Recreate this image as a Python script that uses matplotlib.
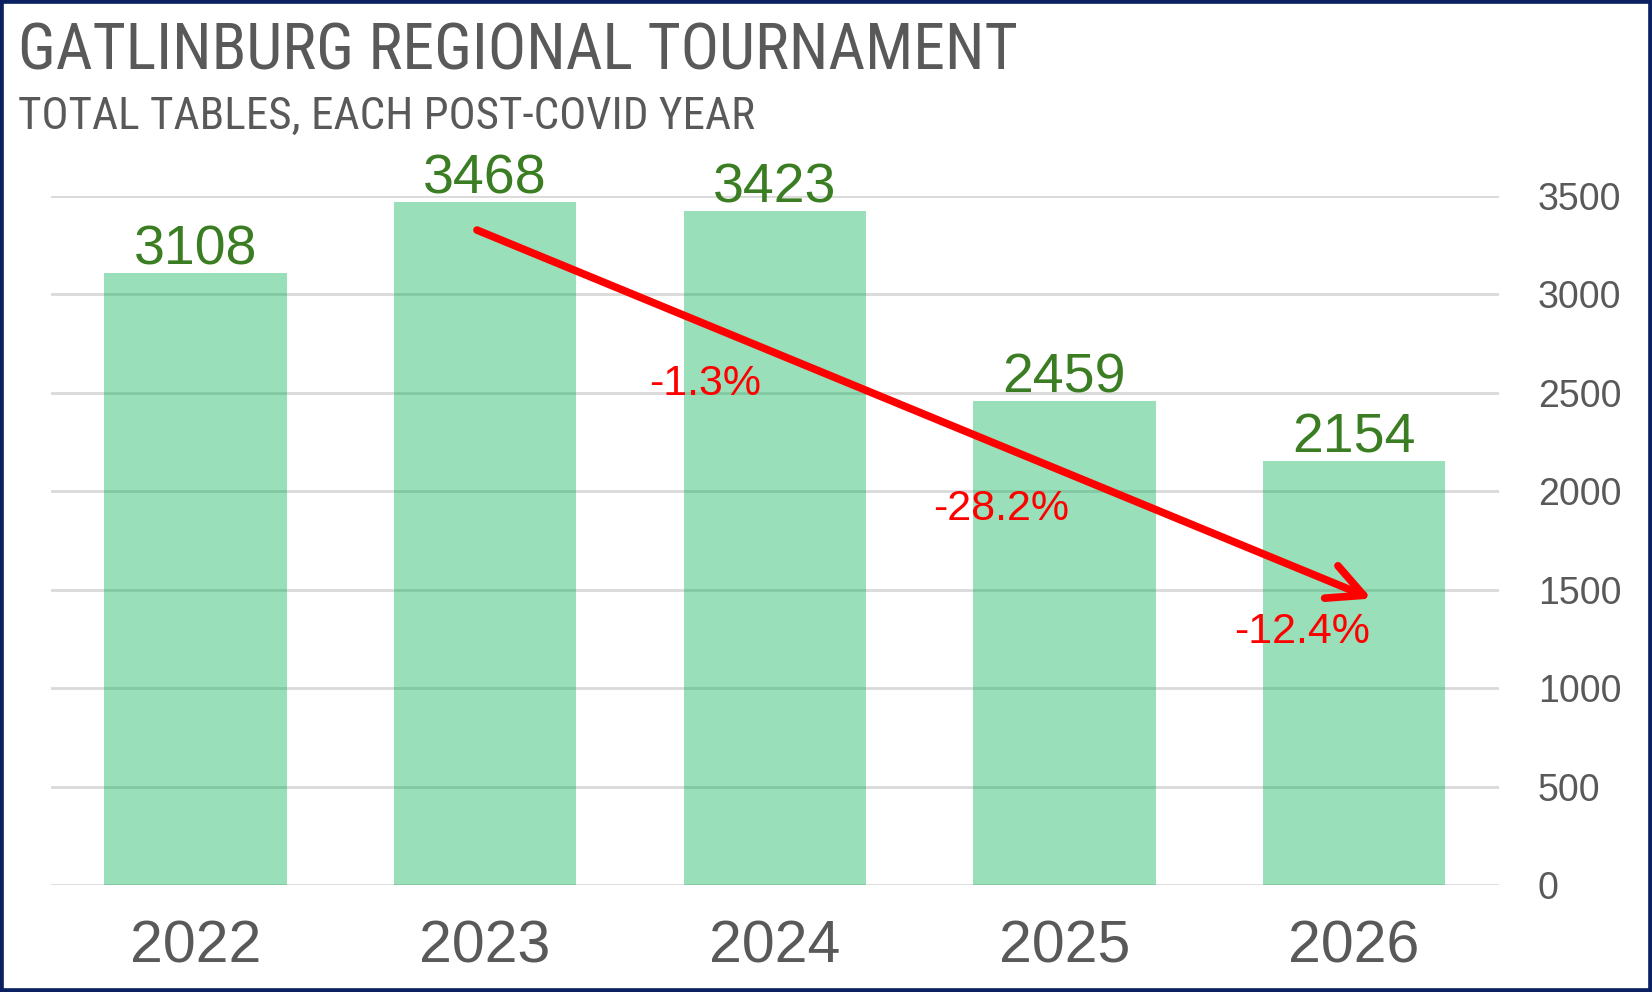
import matplotlib
matplotlib.use('Agg')
import matplotlib.pyplot as plt
from matplotlib.patches import Rectangle

years = ['2022', '2023', '2024', '2025', '2026']
tables = [3108, 3468, 3423, 2459, 2154]
yticks = [0, 500, 1000, 1500, 2000, 2500, 3000, 3500]

# year-on-year change labels for 2024..2026
changes = [(tables[i] - tables[i - 1]) / tables[i - 1] * 100 for i in range(2, 5)]
change_pos = [(1.76, 2489), (2.78, 1854), (3.82, 1229)]

grey = '#595959'
plt.rcParams['font.family'] = ['Liberation Sans', 'DejaVu Sans']

fig = plt.figure(figsize=(16.52, 9.92), dpi=100)
ax = fig.add_axes([0.0306, 0.1079, 0.8768, 0.6945])

x = range(len(years))
ax.bar(x, tables, width=0.63, color='#00B050', alpha=0.4, zorder=2)

for i, v in enumerate(tables):
    ax.annotate(str(v), (i, v), xytext=(0, 6), textcoords='offset points',
                ha='center', va='baseline', fontsize=40, color='#3A7D22')

ax.annotate('', xy=(4.06, 1455), xytext=(0.972, 3327),
            arrowprops=dict(arrowstyle='->, head_length=0.4, head_width=0.2',
                            color='red', lw=5.5, mutation_scale=63,
                            shrinkA=0, shrinkB=0), zorder=5)

for (px, py), c in zip(change_pos, changes):
    ax.text(px, py, f'{c:.1f}%', ha='center', va='baseline',
            fontsize=31, color='red', zorder=6)

ax.set_xlim(-0.5, 4.5)
ax.set_ylim(0, 3500)
ax.set_xticks(list(x))
ax.set_xticklabels(years)
ax.set_yticks(yticks)
ax.yaxis.tick_right()
ax.tick_params(axis='x', length=0, labelsize=42.5, labelcolor=grey, pad=25)
ax.tick_params(axis='y', length=0, labelsize=27, labelcolor=grey, pad=28)
for s in ax.spines.values():
    s.set_visible(False)
ax.grid(axis='y', color='#D9D9D9', lw=2, zorder=1)
ax.set_axisbelow(True)

fig.text(18 / 1652, 1 - 70 / 992, 'GATLINBURG REGIONAL TOURNAMENT',
         family='Roboto Condensed', fontsize=46, color=grey, va='baseline')
fig.text(18 / 1652, 1 - 129 / 992, 'TOTAL TABLES, EACH POST-COVID YEAR',
         family='Roboto Condensed', fontsize=32.5, color=grey, va='baseline')

fig.patches.append(Rectangle((0, 0), 1, 1, transform=fig.transFigure,
                             fill=False, edgecolor='#0A2060', lw=5.5))

fig.savefig('out.png', dpi=100)
